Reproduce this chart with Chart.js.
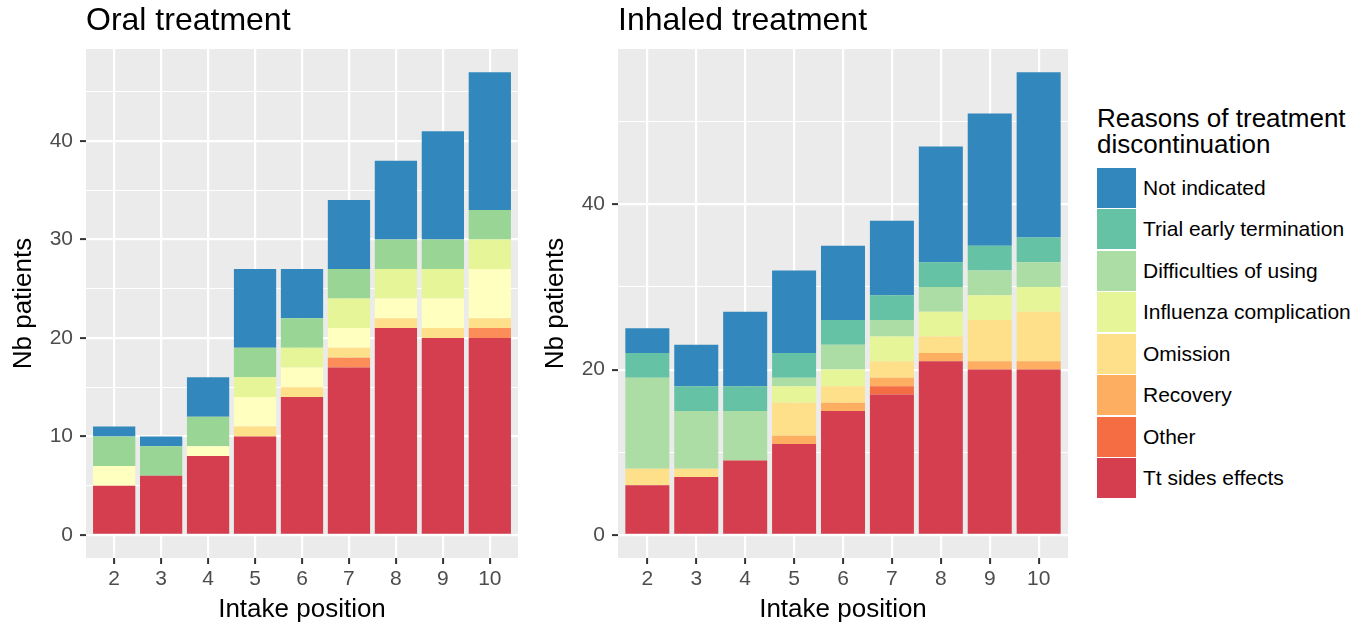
<!DOCTYPE html>
<html>
<head>
<meta charset="utf-8">
<script src="https://cdn.jsdelivr.net/npm/chart.js@4/dist/chart.umd.min.js"></script>
<style>
  body { margin: 0; background: #fff; font-family: "Liberation Sans", Arial, sans-serif; }
  #wrap { position: relative; width: 1370px; height: 625px; }
  canvas { position: absolute; top: 0; }
  #oral { left: 0; }
  #inhaled { left: 532px; }
  #legend { position: absolute; left: 1097px; top: 105px; color: #000; }
  #legend .title { font-size: 26px; line-height: 26px; margin-bottom: 10px; }
  #legend .row { height: 41.5px; display: flex; align-items: center; }
  #legend .key { width: 39px; height: 40px; margin-right: 7px; }
  #legend .lab { font-size: 21px; }
</style>
</head>
<body>
<div id="wrap">
  <canvas id="oral" width="520" height="625"></canvas>
  <canvas id="inhaled" width="538" height="625"></canvas>
  <div id="legend"></div>
</div>
<script>
const intakePositions = [2, 3, 4, 5, 6, 7, 8, 9, 10];

// stacking order: first = bottom
const inhaledReasons = ["Tt sides effects", "Other", "Recovery", "Omission", "Influenza complication", "Difficulties of using", "Trial early termination", "Not indicated"];
const inhaledColors = ["#D53E4F", "#F46D43", "#FDAE61", "#FEE08B", "#E6F598", "#ABDDA4", "#66C2A5", "#3288BD"];
const oralReasons = ["Tt sides effects", "Other", "Recovery", "Omission", "Influenza complication", "Trial early termination", "Not indicated"];
const oralColors = ["#D53E4F", "#FC8D59", "#FEE08B", "#FFFFBF", "#E6F598", "#99D594", "#3288BD"];

// Oral treatment
const oralSideEffects = [5, 6, 8, 10, 14, 17, 21, 20, 20];
const oralOther       = [0, 0, 0, 0, 0, 1, 0, 0, 1];
const oralRecovery    = [0, 0, 0, 1, 1, 1, 1, 1, 1];
const oralOmission    = [2, 0, 1, 3, 2, 2, 2, 3, 5];
const oralInfluenza   = [0, 0, 0, 2, 2, 3, 3, 3, 3];
const oralTrialEnd    = [3, 3, 3, 3, 3, 3, 3, 3, 3];
const oralNotIndic    = [1, 1, 4, 8, 5, 7, 8, 11, 14];

// Inhaled treatment
const inhSideEffects  = [6, 7, 9, 11, 15, 17, 21, 20, 20];
const inhOther        = [0, 0, 0, 0, 0, 1, 0, 0, 0];
const inhRecovery     = [0, 0, 0, 1, 1, 1, 1, 1, 1];
const inhOmission     = [2, 1, 0, 4, 2, 2, 2, 5, 6];
const inhInfluenza    = [0, 0, 0, 2, 2, 3, 3, 3, 3];
const inhDifficulty   = [11, 7, 6, 1, 3, 2, 3, 3, 3];
const inhTrialEnd     = [3, 3, 3, 3, 3, 3, 3, 3, 3];
const inhNotIndic     = [3, 5, 9, 10, 9, 9, 14, 16, 20];

const oralYTicks = [0, 10, 20, 30, 40];
const oralYMinor = [5, 15, 25, 35, 45];
const inhYTicks = [0, 20, 40];
const inhYMinor = [10, 30, 50];

const oralSeries = [oralSideEffects, oralOther, oralRecovery, oralOmission, oralInfluenza, oralTrialEnd, oralNotIndic];
const inhSeries = [inhSideEffects, inhOther, inhRecovery, inhOmission, inhInfluenza, inhDifficulty, inhTrialEnd, inhNotIndic];

const FONT = "'Liberation Sans', Arial, sans-serif";

const panelBg = {
  id: "panelBg",
  beforeDraw(chart) {
    const { ctx, chartArea: a } = chart;
    ctx.save();
    ctx.fillStyle = "#EBEBEB";
    ctx.fillRect(a.left, a.top, a.right - a.left, a.bottom - a.top);
    ctx.restore();
  }
};

function makeChart(id, title, reasons, colors, series, majors, minors) {
  const totals = intakePositions.map((_, i) => series.reduce((s, arr) => s + arr[i], 0));
  const top = Math.max(...totals);
  const isMajor = (v) => majors.includes(v);

  return new Chart(document.getElementById(id), {
    type: "bar",
    data: {
      datasets: reasons.map((r, k) => ({
        label: r,
        data: intakePositions.map((x, i) => ({ x: x, y: series[k][i] })),
        backgroundColor: colors[k],
        borderWidth: 0,
        stack: "s",
        barPercentage: 0.9,
        categoryPercentage: 1.0,
      })),
    },
    options: {
      responsive: false,
      animation: false,
      layout: { padding: { right: 2, top: 0, bottom: 0, left: 0 } },
      plugins: {
        legend: { display: false },
        tooltip: { enabled: false },
        title: {
          display: true,
          text: title,
          align: "start",
          fullSize: false,
          color: "#000",
          font: { family: FONT, size: 32, weight: "normal" },
          padding: { top: 2, bottom: 8.6 },
        },
      },
      scales: {
        x: {
          type: "linear",
          offset: false,
          min: 1.4,
          max: 10.6,
          afterBuildTicks: (axis) => { axis.ticks = intakePositions.map((v) => ({ value: v })); },
          afterFit: (scale) => { scale.height = 67; },
          border: { display: false },
          grid: { offset: false, color: "#fff", lineWidth: 2.2, tickColor: "#333", tickWidth: 2, tickLength: 6 },
          ticks: { autoSkip: false, maxRotation: 0, padding: 3, color: "#4D4D4D", font: { family: FONT, size: 21 } },
          title: { display: true, text: "Intake position", color: "#000", font: { family: FONT, size: 26 }, padding: { top: 0, bottom: 0 } },
        },
        y: {
          stacked: true,
          min: -top * 0.05,
          max: top * 1.05,
          afterBuildTicks: (axis) => { axis.ticks = majors.concat(minors).sort((a, b) => a - b).map((v) => ({ value: v })); },
          afterFit: (scale) => { scale.width = 86; },
          border: { display: false },
          grid: {
            color: "#fff",
            lineWidth: (c) => (isMajor(c.tick.value) ? 2.2 : 1.1),
            tickColor: (c) => (isMajor(c.tick.value) ? "#333" : "rgba(0,0,0,0)"),
            tickWidth: 2,
            tickLength: 6,
          },
          ticks: {
            autoSkip: false,
            padding: 7,
            color: "#4D4D4D",
            font: { family: FONT, size: 21 },
            callback: (v) => (isMajor(v) ? String(v) : ""),
          },
          title: { display: true, text: "Nb patients", color: "#000", font: { family: FONT, size: 26 }, padding: { top: 8, bottom: 0 } },
        },
      },
    },
    plugins: [panelBg],
  });
}

makeChart("oral", "Oral treatment", oralReasons, oralColors, oralSeries, oralYTicks, oralYMinor);
makeChart("inhaled", "Inhaled treatment", inhaledReasons, inhaledColors, inhSeries, inhYTicks, inhYMinor);

// legend (top = last stacked level)
const legend = document.getElementById("legend");
legend.innerHTML = '<div class="title">Reasons of treatment<br>discontinuation</div>';
inhaledReasons.slice().reverse().forEach((r, i) => {
  const c = inhaledColors[inhaledColors.length - 1 - i];
  const row = document.createElement("div");
  row.className = "row";
  row.innerHTML = `<div class="key" style="background:${c}"></div><div class="lab">${r}</div>`;
  legend.appendChild(row);
});
</script>
</body>
</html>
